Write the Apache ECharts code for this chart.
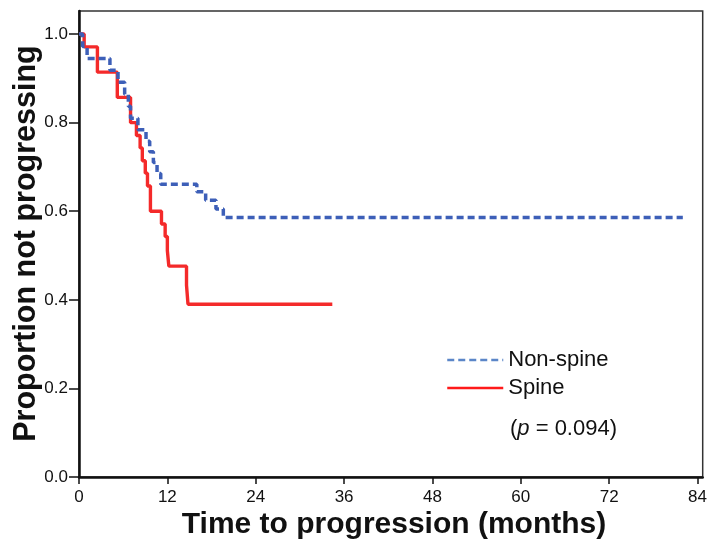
<!DOCTYPE html>
<html>
<head>
<meta charset="utf-8">
<script src="https://cdn.jsdelivr.net/npm/echarts@6/dist/echarts.min.js"></script>
<style>
html,body{margin:0;padding:0;background:#fff;}
#c{width:710px;height:545px;}
</style>
</head>
<body>
<div id="c"></div>
<script>
// Kaplan-Meier steps: [time (months), proportion after event]
const nonSpine = [
  [0, 1.0], [0.5, 0.972], [1.1, 0.945], [4.2, 0.918], [5.3, 0.891],
  [6.2, 0.864], [6.7, 0.837], [7.0, 0.810], [8.0, 0.784], [9.1, 0.758],
  [9.6, 0.734], [10.1, 0.710], [10.6, 0.685], [11.1, 0.661],
  [16.0, 0.644], [17.2, 0.625], [18.6, 0.605], [19.6, 0.586], [82.0, 0.586]
];
const spine = [
  [0, 1.0], [0.7, 0.971], [2.5, 0.914], [5.2, 0.857], [7.0, 0.800],
  [7.8, 0.771], [8.3, 0.743], [8.6, 0.714], [9.0, 0.686], [9.3, 0.657],
  [9.7, 0.600], [11.2, 0.571], [11.7, 0.543], [12.0, 0.511], [12.2, 0.476],
  [14.6, 0.433], [14.8, 0.390], [34.4, 0.390]
];
const xTicks = [0, 12, 24, 36, 48, 60, 72, 84];
const yTicks = [0, 0.2, 0.4, 0.6, 0.8, 1.0];
const seriesNames = ['Non-spine', 'Spine'];
const pText = '({i|p} = 0.094)';
const xTitle = 'Time to progression (months)';
const yTitle = 'Proportion not progressing';

const chart = echarts.init(document.getElementById('c'), null, {renderer: 'canvas'});
const font = 'Liberation Sans, Arial, sans-serif';
chart.setOption({
  backgroundColor: '#fff',
  animation: false,
  grid: {left: 79, right: 1, top: 11, bottom: 68, show: true, borderColor: '#333', borderWidth: 1.5, backgroundColor: 'transparent'},
  xAxis: {
    type: 'value', min: 0, max: 84.7,
    axisLine: {show: true, onZero: false, lineStyle: {color: '#111', width: 2.5}},
    axisTick: {show: true, length: 7, customValues: xTicks, lineStyle: {color: '#111', width: 1.5}},
    axisLabel: {customValues: xTicks, color: '#111', fontSize: 17, fontFamily: font, margin: 12},
    splitLine: {show: false}
  },
  yAxis: {
    type: 'value', min: 0, max: 1.052,
    axisLine: {show: true, onZero: false, lineStyle: {color: '#111', width: 2.5}},
    axisTick: {show: true, length: 10, customValues: yTicks, lineStyle: {color: '#111', width: 1.5}},
    axisLabel: {customValues: yTicks, color: '#111', fontSize: 17, fontFamily: font, margin: 11,
      formatter: v => v.toFixed(1)},
    splitLine: {show: false}
  },
  legend: {
    orient: 'vertical', left: 446, top: 349, itemWidth: 56, itemHeight: 14, itemGap: 6, padding: 0,
    textStyle: {fontSize: 22, fontFamily: font, color: '#111'},
    itemStyle: {opacity: 0},
    data: [
      {name: seriesNames[0], itemStyle: {opacity: 0}, lineStyle: {width: 2.5, color: '#5b86c8', type: [7, 4]}},
      {name: seriesNames[1], itemStyle: {opacity: 0}, lineStyle: {width: 2.5, color: '#ff1a1a'}}
    ]
  },
  series: [
    {name: seriesNames[0], type: 'line', step: 'end', data: nonSpine, symbol: 'none',
     z: 3, lineStyle: {color: '#3d5fb8', width: 3.5, type: [7, 4]}, itemStyle: {color: '#3d5fb8'}},
    {name: seriesNames[1], type: 'line', step: 'end', data: spine, symbol: 'none',
     z: 2, lineStyle: {color: '#f42a2a', width: 3.4}, itemStyle: {color: '#f42a2a'}}
  ],
  graphic: [
    {type: 'text', left: 510, top: 418, style: {text: pText, fontSize: 22, fontFamily: font, fill: '#111',
      rich: {i: {fontStyle: 'italic', fontSize: 22, fontFamily: font, fill: '#111'}}}},
    {type: 'text', x: 394, y: 525, style: {text: xTitle, fontSize: 30, fontWeight: 'bold', fontFamily: font,
      fill: '#111', align: 'center', verticalAlign: 'middle'}},
    {type: 'text', x: 27, y: 243.5, rotation: Math.PI / 2, style: {text: yTitle, fontSize: 30.5, fontWeight: 'bold',
      fontFamily: font, fill: '#111', align: 'center', verticalAlign: 'middle'}}
  ]
});
</script>
</body>
</html>
